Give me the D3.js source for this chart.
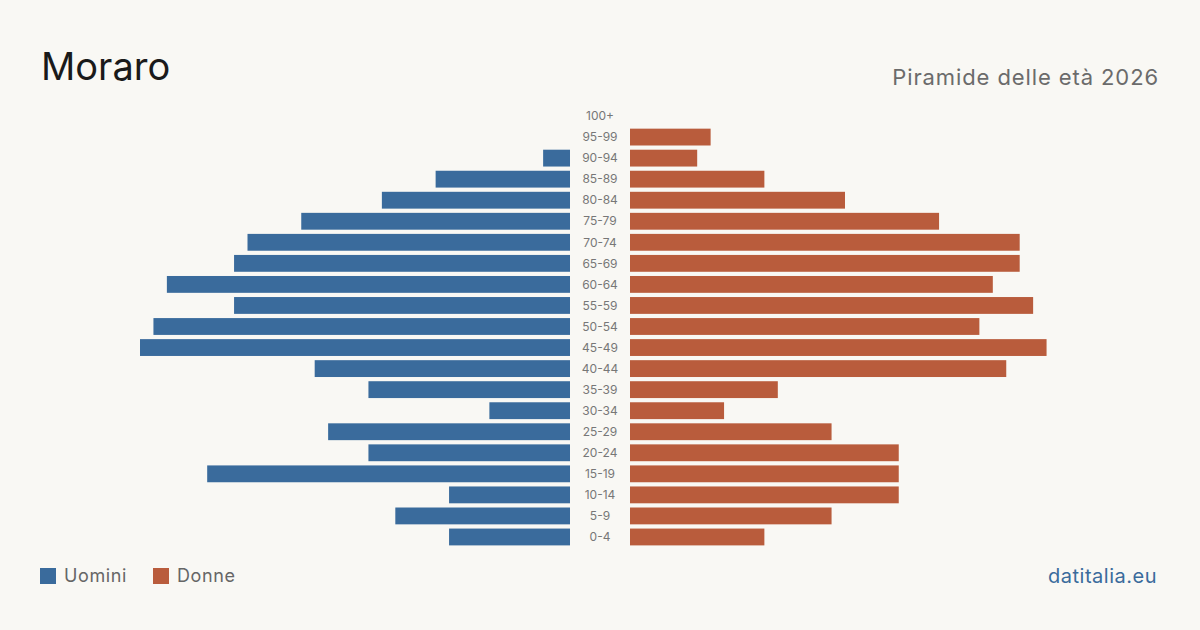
<!DOCTYPE html>
<html>
<head>
<meta charset="utf-8">
<script src="https://cdn.jsdelivr.net/npm/d3@7"></script>
<style>
  html, body { margin: 0; padding: 0; background: #f9f8f4; }
  svg { display: block; font-family: Inter, "Noto Sans", sans-serif; }
</style>
</head>
<body>
<div id="chart"></div>
<script>
// Age groups, top to bottom
const ageGroups = ['100+', '95-99', '90-94', '85-89', '80-84', '75-79', '70-74', '65-69', '60-64',
    '55-59', '50-54', '45-49', '40-44', '35-39', '30-34', '25-29', '20-24', '15-19', '10-14', '5-9', '0-4'];
const men =   [0, 0, 2, 10, 14, 20, 24, 25, 30, 25, 31, 32, 19, 15, 6, 18, 15, 27, 9, 13, 9];
const women = [0, 6, 5, 10, 16, 23, 29, 29, 27, 30, 26, 31, 28, 11, 7, 15, 20, 20, 20, 15, 10];

const W = 1200, H = 630;
const colMen = '#3a6b9c', colWomen = '#b95c3c';

const svg = d3.select('#chart').append('svg')
    .attr('width', W).attr('height', H);

svg.append('rect').attr('width', W).attr('height', H).attr('fill', '#f9f8f4');

// Title
svg.append('text')
    .attr('x', 41).attr('y', 80)
    .attr('font-size', 38).attr('fill', '#1a1a1a')
    .text('Moraro');

svg.append('text')
    .attr('x', 1159).attr('y', 85)
    .attr('text-anchor', 'end')
    .attr('font-size', 22).attr('fill', '#6b6b6b')
    .attr('letter-spacing', 0.9)
    .text('Piramide delle età 2026');

// Scales
const centerL = 570, centerR = 630, maxW = 430;
const maxVal = 32;

const y = d3.scaleBand()
    .domain(ageGroups)
    .range([105.5, 547.5])
    .paddingInner(0.2)
    .paddingOuter(0.1);

const xL = d3.scaleLinear().domain([0, maxVal]).range([centerL, centerL - maxW]);
const xR = d3.scaleLinear().domain([0, maxVal]).range([centerR, centerR + maxW]);

// Bars
svg.append('g').selectAll('rect')
    .data(men)
    .join('rect')
    .attr('x', d => xL(d))
    .attr('y', (d, i) => y(ageGroups[i]))
    .attr('width', d => centerL - xL(d))
    .attr('height', y.bandwidth())
    .attr('fill', colMen);

svg.append('g').selectAll('rect')
    .data(women)
    .join('rect')
    .attr('x', centerR)
    .attr('y', (d, i) => y(ageGroups[i]))
    .attr('width', d => xR(d) - centerR)
    .attr('height', y.bandwidth())
    .attr('fill', colWomen);

// Age labels
svg.append('g').selectAll('text')
    .data(ageGroups)
    .join('text')
    .attr('x', (centerL + centerR) / 2)
    .attr('y', d => y(d) + y.bandwidth() / 2)
    .attr('dy', '0.35em')
    .attr('text-anchor', 'middle')
    .attr('font-size', 12)
    .attr('fill', '#777')
    .text(d => d);

// Legend
const legend = [{ label: 'Uomini', color: colMen, x: 40 }, { label: 'Donne', color: colWomen, x: 153 }];
const lg = svg.append('g').selectAll('g')
    .data(legend)
    .join('g')
    .attr('transform', d => `translate(${d.x},568)`);
lg.append('rect').attr('width', 16).attr('height', 16).attr('fill', d => d.color);
lg.append('text')
    .attr('x', 24).attr('y', 8).attr('dy', '0.35em')
    .attr('font-size', 18).attr('fill', '#666')
    .attr('letter-spacing', 0.6)
    .text(d => d.label);

svg.append('text')
    .attr('x', 1157).attr('y', 583)
    .attr('text-anchor', 'end')
    .attr('font-size', 20).attr('fill', '#3a6b9c')
    .attr('letter-spacing', 0.5)
    .text('datitalia.eu');
</script>
</body>
</html>
